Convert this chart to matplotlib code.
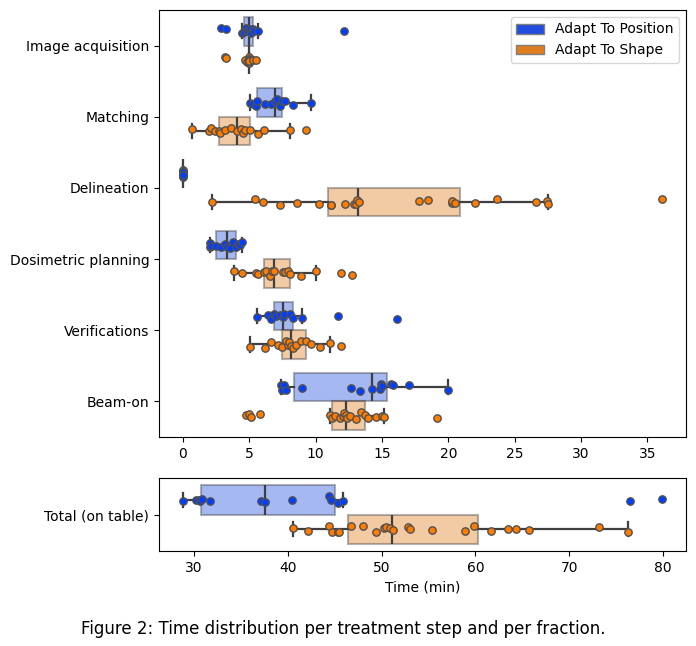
import numpy as np
import matplotlib
matplotlib.use("Agg")
import matplotlib.pyplot as plt
from matplotlib.patches import Patch

steps = ["Image acquisition", "Matching", "Delineation",
         "Dosimetric planning", "Verifications", "Beam-on"]
hues = ["Adapt To Position", "Adapt To Shape"]

position_vals = [
    [2.84, 3.24, 4.45, 4.58, 4.75, 4.85, 4.98, 5.05, 5.15, 5.28, 5.35, 5.66, 12.14],
    [5.03, 5.31, 5.5, 5.61, 6.16, 6.67, 6.97, 7.09, 7.29, 7.47, 7.67, 8.30, 9.68],
    [0, 0, 0, 0, 0, 0, 0, 0, 0, 0, 0, 0, 0],
    [2.01, 2.05, 2.14, 2.52, 2.9, 3.2, 3.35, 3.52, 3.8, 3.97, 4.15, 4.3, 4.48],
    [5.61, 6.41, 6.67, 6.89, 7.04, 7.29, 7.54, 7.62, 8.05, 8.30, 8.97, 11.69, 16.14],
    [7.42, 7.5, 7.6, 7.8, 9.0, 12.7, 13.33, 14.28, 14.83, 14.91, 15.0, 15.68, 15.79, 17.0, 19.98],
]
shape_vals = [
    [3.2, 3.27, 4.65, 4.83, 5, 5, 5, 5, 5, 5, 5, 5, 5, 5, 5, 5.28, 5.53],
    [0.71, 1.96, 2.14, 2.39, 2.69, 2.77, 3.15, 3.65, 4.10, 4.4, 4.55, 4.65, 5.03, 5.66, 6.11, 8.05, 9.25],
    [2.21, 5.46, 6.04, 7.34, 8.6, 10.26, 11.19, 11.19, 12.19, 12.9, 13.02, 13.1, 13.25,
     17.78, 18.43, 20.25, 20.31, 20.49, 22.0, 23.63, 26.57, 27.4, 27.5, 36.1],
    [3.82, 4.45, 5.48, 5.66, 6.09, 6.24, 6.54, 6.71, 6.87, 7.54, 7.7, 7.92, 8.05, 8.93, 10.01, 11.94, 12.75],
    [5.03, 6.16, 6.61, 7.16, 7.5, 7.8, 7.95, 8.0, 8.12, 8.3, 8.5, 8.93, 9.25, 9.68, 10.31, 11.06, 11.94],
    [4.78, 5.0, 5.16, 5.84, 11.11, 11.24, 11.44, 11.8, 12.07, 12.15, 12.25, 12.37, 12.6,
     13.02, 13.45, 13.75, 13.95, 14.58, 15.0, 15.16, 19.13],
]
total_label = ["Total (on table)"]
total_position = [28.82, 30.22, 30.5, 30.6, 30.87, 31.7, 37.17, 37.6, 40.4, 44.4, 44.6, 45.4, 45.9, 76.5, 79.9]
total_shape = [40.56, 42.15, 44.4, 44.7, 45.3, 45.45, 46.7, 48.04, 49.4, 50.3, 50.5, 50.9, 51.25,
               52.8, 53.07, 55.4, 58.9, 59.8, 61.7, 63.45, 64.35, 65.7, 73.2, 76.3]

point_colors = ["#023eff", "#ff7c00"]
box_colors = ["#224ee0", "#df7d20"]
line_col = "#3f3f3f"
rng = np.random.default_rng(3)

fig = plt.figure(figsize=(6.96, 6.46), dpi=100)
ax1 = fig.add_axes([159/696, 1-437/646, (686-159)/696, (437-10)/646])
ax2 = fig.add_axes([159/696, 1-551/646, (686-159)/696, (551-478)/646])


def draw(ax, groups_by_hue):
    ncat = len(groups_by_hue[0])
    for h, groups in enumerate(groups_by_hue):
        off = -0.2 if h == 0 else 0.2
        pos = [i + off for i in range(ncat)]
        ax.boxplot(groups, positions=pos, widths=0.4, vert=False,
                   showfliers=False, patch_artist=True, manage_ticks=False,
                   boxprops=dict(facecolor=box_colors[h], edgecolor=line_col,
                                 linewidth=1.5, alpha=0.4),
                   whiskerprops=dict(color=line_col, linewidth=1.6),
                   capprops=dict(color=line_col, linewidth=1.6),
                   medianprops=dict(color=line_col, linewidth=1.6))
        for i, g in enumerate(groups):
            g = np.asarray(g, dtype=float)
            yy = pos[i] + rng.uniform(-0.05, 0.05, size=len(g))
            ax.scatter(g, yy, s=28, color=point_colors[h], edgecolor="#505050",
                       linewidth=1, zorder=3)


draw(ax1, [position_vals, shape_vals])
ax1.set_yticks(range(len(steps)))
ax1.set_yticklabels(steps)
ax1.set_ylim(5.5, -0.5)
ax1.set_xticks(np.arange(0, 36, 5))
ax1.margins(x=0.05)
ax1.legend(handles=[Patch(facecolor=box_colors[0], edgecolor="#7f7f7f", label=hues[0]),
                    Patch(facecolor=box_colors[1], edgecolor="#7f7f7f", label=hues[1])],
           loc="upper right")

draw(ax2, [[total_position], [total_shape]])
ax2.set_yticks([0])
ax2.set_yticklabels(total_label)
ax2.set_ylim(0.5, -0.5)
ax2.set_xticks(np.arange(30, 81, 10))
ax2.margins(x=0.05)
ax2.set_xlabel("Time (min)")

fig.text(0.4935, 1-629/646, "Figure 2: Time distribution per treatment step and per fraction.",
         ha="center", va="center", fontsize=12)

fig.savefig("out.png", dpi=100)
